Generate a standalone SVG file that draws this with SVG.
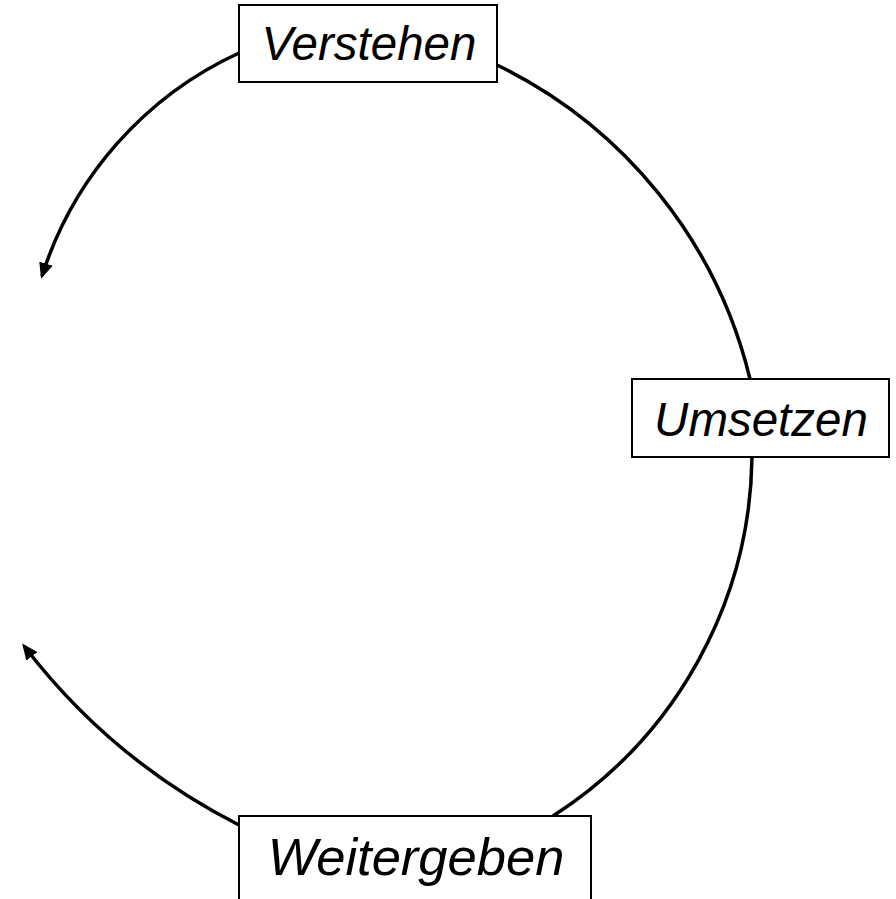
<svg xmlns="http://www.w3.org/2000/svg" width="896" height="899" viewBox="0 0 896 899">
<style>
.conn{fill:none;stroke:#000;stroke-width:3.5}
.box{fill:#fff;stroke:#000;stroke-width:2}
.lbl{font-family:"Liberation Sans",Arial,sans-serif;font-style:italic;text-anchor:middle;fill:#000}
</style>
<defs>
<marker id="arr" markerUnits="userSpaceOnUse" markerWidth="16" markerHeight="14" viewBox="0 0 16 14" refX="13" refY="7" orient="auto">
<path d="M0,0 L16,7 L0,14 z" fill="#000"/>
</marker>
</defs>
<rect width="896" height="899" fill="#fff"/>
<g id="connectors">
<path class="conn" d="M497,65 A472,472 0 0 1 750,379"/>
<path class="conn" d="M752,457 A433,433 0 0 1 553,816"/>
<path class="conn" d="M239,53 A368,368 0 0 0 42,276" marker-end="url(#arr)"/>
<path class="conn" d="M239,825 A632,632 0 0 1 24,646" marker-end="url(#arr)"/>
</g>
<g id="verstehen">
<rect class="box" x="239" y="5" width="258" height="77"/>
<text class="lbl" x="369" y="60" font-size="47.5">Verstehen</text>
</g>
<g id="umsetzen">
<rect class="box" x="632" y="379" width="257" height="78"/>
<text class="lbl" x="761" y="436" font-size="47.5">Umsetzen</text>
</g>
<g id="weitergeben">
<rect class="box" x="239" y="816" width="352" height="100"/>
<text class="lbl" x="416" y="875" font-size="52.5">Weitergeben</text>
</g>
</svg>
